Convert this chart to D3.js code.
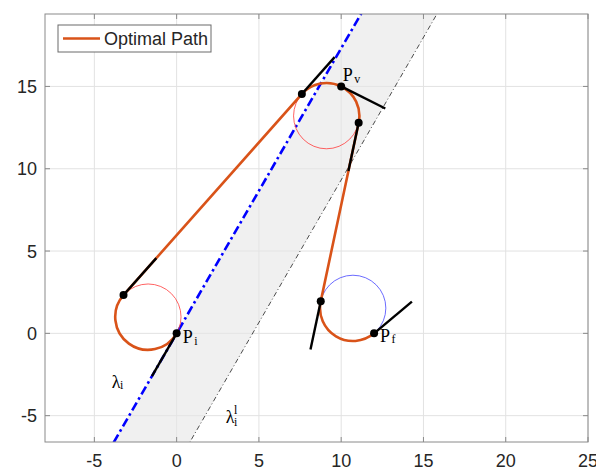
<!DOCTYPE html>
<meta charset='utf-8'>
<style>
  body { margin: 0; background: #fff; }
  svg text { font-family: "Liberation Sans", Arial, sans-serif; fill: #262626; }
  svg text.lbl { font-family: "Liberation Serif", "DejaVu Serif", serif; fill: #000; }
</style>
<body>
<div id="viz"></div>
<script src="https://d3js.org/d3.v7.min.js"></script>
<script>
const xTicks = [-5, 0, 5, 10, 15, 20, 25];
const yTicks = [-5, 0, 5, 10, 15];
const xDomain = [-8, 25];
const yDomain = [-6.6, 19.4];

// turning circles (centre + colour), all of radius 2
const circleX = [-1.732, 9.106, 10.714];
const circleY = [1.0, 13.211, 1.532];
const circleColor = ['#ff3b3b', '#ff3b3b', '#4545ff'];
const turnRadius = 2;

// way points: Pi, tangent points, Pv, Pf -- with heading (deg)
const pointX = [0, -3.228, 7.610, 10, 11.062, 8.758, 12];
const pointY = [0, 2.328, 14.539, 15, 12.795, 1.948, 0];
const heading = [240, 48.4, 48.4, -26.6, -102, -102, 40];
const headLen = 3;

// pieces of the optimal path
const pieces = [
  {type: 'arc', circle: 0, from: 0, to: 1, cw: true},
  {type: 'line', from: 1, to: 2},
  {type: 'arc', circle: 1, from: 2, to: 4, cw: true},
  {type: 'line', from: 4, to: 5},
  {type: 'arc', circle: 2, from: 5, to: 6, cw: false}
];

// corridor bounds: where each line crosses y = 0, common angle
const laneX0 = [0, 4.619];
const laneAngle = 60;

// labels
const labelMain = ['P', 'P', 'P', 'λ', 'λ'];
const labelSub = ['v', 'i', 'f', 'i', 'i'];
const labelSup = ['', '', '', '', 'l'];
const labelX = [10.1, 0.37, 12.36, -3.95, 2.98];
const labelY = [15.33, -0.59, -0.5, -3.3, -5.47];

const W = 596, H = 473;
const m = {left: 45, right: 8, top: 14, bottom: 31};

var svg = d3.select('#viz').append('svg').attr('width', W).attr('height', H);

var x = d3.scaleLinear().domain(xDomain).range([m.left, W - m.right]);
var y = d3.scaleLinear().domain(yDomain).range([H - m.bottom, m.top]);
var kx = x(1) - x(0);

svg.append('clipPath').attr('id', 'clip')
  .append('rect')
  .attr('x', x(xDomain[0])).attr('y', y(yDomain[1]))
  .attr('width', x(xDomain[1]) - x(xDomain[0]))
  .attr('height', y(yDomain[0]) - y(yDomain[1]));

// grid
var grid = svg.append('g').attr('stroke', '#e2e2e2').attr('stroke-width', 1);
xTicks.forEach(t => grid.append('line')
  .attr('x1', x(t)).attr('x2', x(t)).attr('y1', y(yDomain[0])).attr('y2', y(yDomain[1])));
yTicks.forEach(t => grid.append('line')
  .attr('y1', y(t)).attr('y2', y(t)).attr('x1', x(xDomain[0])).attr('x2', x(xDomain[1])));

var plot = svg.append('g').attr('clip-path', 'url(#clip)');

// corridor lines y = tan(a) * (x - x0)
var slope = Math.tan(laneAngle * Math.PI / 180);
function laneAt(x0, yy) { return x0 + yy / slope; }
var yLo = yDomain[0] - 1, yHi = yDomain[1] + 1;

plot.append('path')
  .attr('d', d3.line()([
    [x(laneAt(laneX0[0], yLo)), y(yLo)], [x(laneAt(laneX0[0], yHi)), y(yHi)],
    [x(laneAt(laneX0[1], yHi)), y(yHi)], [x(laneAt(laneX0[1], yLo)), y(yLo)]
  ]) + 'Z')
  .attr('fill', '#e6e6e6').attr('fill-opacity', 0.6);

plot.append('line')
  .attr('x1', x(laneAt(laneX0[1], yLo))).attr('y1', y(yLo))
  .attr('x2', x(laneAt(laneX0[1], yHi))).attr('y2', y(yHi))
  .attr('stroke', '#000').attr('stroke-width', 0.7)
  .attr('stroke-dasharray', '5 2.5 1 2.5');

plot.append('line')
  .attr('x1', x(laneAt(laneX0[0], yLo))).attr('y1', y(yLo))
  .attr('x2', x(laneAt(laneX0[0], yHi))).attr('y2', y(yHi))
  .attr('stroke', '#0000ff').attr('stroke-width', 2.6)
  .attr('stroke-dasharray', '9 3.5 2.5 3.5');

// thin turning circles
circleX.forEach((cx, i) => plot.append('circle')
  .attr('cx', x(cx)).attr('cy', y(circleY[i])).attr('r', turnRadius * kx)
  .attr('fill', 'none').attr('stroke', circleColor[i]).attr('stroke-width', 0.8));

// optimal path
var p = d3.path();
p.moveTo(x(pointX[0]), y(pointY[0]));
pieces.forEach(s => {
  if (s.type == 'line') {
    p.lineTo(x(pointX[s.to]), y(pointY[s.to]));
  } else {
    var cx = circleX[s.circle], cy = circleY[s.circle];
    var a0 = Math.atan2(pointY[s.from] - cy, pointX[s.from] - cx);
    var a1 = Math.atan2(pointY[s.to] - cy, pointX[s.to] - cx);
    p.arc(x(cx), y(cy), turnRadius * kx, -a0, -a1, !s.cw);
  }
});
plot.append('path').attr('d', p.toString())
  .attr('fill', 'none').attr('stroke', '#d95319').attr('stroke-width', 2.6);

// heading segments
pointX.forEach((px, i) => {
  var a = heading[i] * Math.PI / 180;
  plot.append('line')
    .attr('x1', x(px)).attr('y1', y(pointY[i]))
    .attr('x2', x(px + headLen * Math.cos(a))).attr('y2', y(pointY[i] + headLen * Math.sin(a)))
    .attr('stroke', '#000').attr('stroke-width', 2.4);
});
pointX.forEach((px, i) => plot.append('circle')
  .attr('cx', x(px)).attr('cy', y(pointY[i])).attr('r', 4).attr('fill', '#000'));

// labels
labelMain.forEach((t, i) => {
  var lx = x(labelX[i]), ly = y(labelY[i]);
  svg.append('text').attr('class', 'lbl').attr('x', lx).attr('y', ly)
    .attr('font-size', 18).text(t);
  var w = t == 'P' ? 11.5 : 8.3;
  svg.append('text').attr('class', 'lbl').attr('x', lx + w).attr('y', ly + (labelSup[i] ? 2.5 : 1.8))
    .attr('font-size', 12).text(labelSub[i]);
  if (labelSup[i]) {
    svg.append('text').attr('class', 'lbl').attr('x', lx + w).attr('y', ly - 9)
      .attr('font-size', 12).text(labelSup[i]);
  }
});

// axes box + ticks
var ax = svg.append('g').attr('stroke', '#8a8a8a').attr('stroke-width', 1).attr('fill', 'none');
ax.append('rect')
  .attr('x', x(xDomain[0])).attr('y', y(yDomain[1]))
  .attr('width', x(xDomain[1]) - x(xDomain[0]))
  .attr('height', y(yDomain[0]) - y(yDomain[1]));
xTicks.forEach(t => {
  ax.append('line').attr('x1', x(t)).attr('x2', x(t)).attr('y1', y(yDomain[0])).attr('y2', y(yDomain[0]) - 5);
  ax.append('line').attr('x1', x(t)).attr('x2', x(t)).attr('y1', y(yDomain[1])).attr('y2', y(yDomain[1]) + 5);
});
yTicks.forEach(t => {
  ax.append('line').attr('y1', y(t)).attr('y2', y(t)).attr('x1', x(xDomain[0])).attr('x2', x(xDomain[0]) + 5);
  ax.append('line').attr('y1', y(t)).attr('y2', y(t)).attr('x1', x(xDomain[1])).attr('x2', x(xDomain[1]) - 5);
});

svg.append('g').selectAll('text').data(xTicks).join('text')
  .attr('x', d => x(d)).attr('y', y(yDomain[0]) + 25)
  .attr('text-anchor', 'middle').attr('font-size', 18).text(d => d);
svg.append('g').selectAll('text').data(yTicks).join('text')
  .attr('x', x(xDomain[0]) - 8).attr('y', d => y(d) + 6.5)
  .attr('text-anchor', 'end').attr('font-size', 18).text(d => d);

// legend
var lg = svg.append('g');
lg.append('rect').attr('x', 58).attr('y', 25).attr('width', 153).attr('height', 27)
  .attr('fill', '#fff').attr('stroke', '#6a6a6a').attr('stroke-width', 1);
lg.append('line').attr('x1', 63).attr('x2', 100).attr('y1', 38.5).attr('y2', 38.5)
  .attr('stroke', '#d95319').attr('stroke-width', 2.6);
lg.append('text').attr('x', 104).attr('y', 45).attr('font-size', 18).attr('fill', '#000').text('Optimal Path');
</script>
